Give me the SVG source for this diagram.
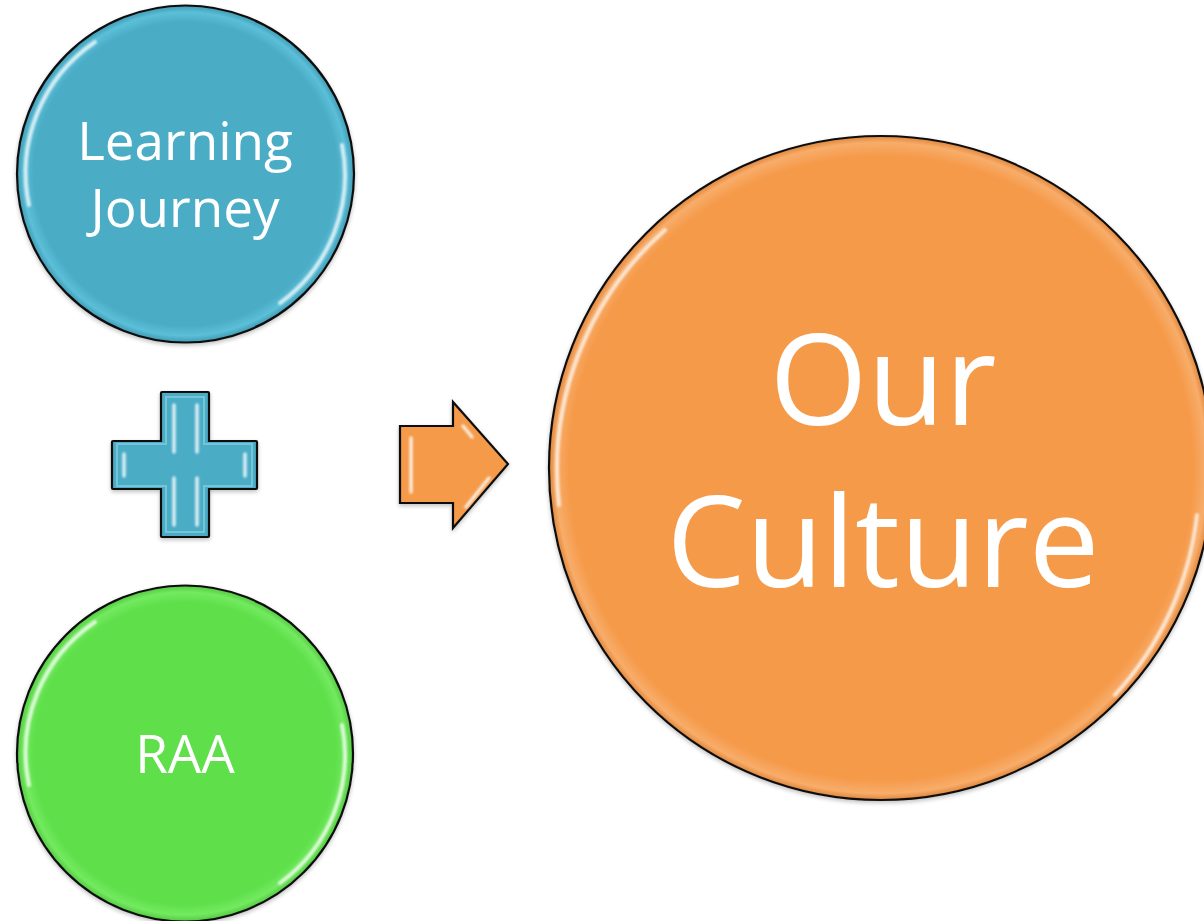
<svg xmlns="http://www.w3.org/2000/svg" width="1204" height="921" viewBox="0 0 1204 921">
<style>
.lbl{font-family:"Open Sans","Liberation Sans",sans-serif;fill:#ffffff;text-anchor:middle}
.edge{stroke:#111;stroke-width:2.2}
.hl{fill:none;stroke:#ffffff;stroke-linecap:round}
</style>
<defs>
<radialGradient id="gBlue" cx="50%" cy="50%" r="50%">
<stop offset="0.9" stop-color="#4BACC6"/><stop offset="0.96" stop-color="#5cbfd8"/><stop offset="1" stop-color="#3f9ab3"/>
</radialGradient>
<radialGradient id="gGreen" cx="50%" cy="50%" r="50%">
<stop offset="0.9" stop-color="#5FE04B"/><stop offset="0.96" stop-color="#73ea60"/><stop offset="1" stop-color="#52c940"/>
</radialGradient>
<radialGradient id="gOrange" cx="50%" cy="50%" r="50%">
<stop offset="0.94" stop-color="#F59A4A"/><stop offset="0.98" stop-color="#f8ad6a"/><stop offset="1" stop-color="#e0853a"/>
</radialGradient>
<filter id="sh" x="-10%" y="-10%" width="120%" height="120%">
<feGaussianBlur in="SourceAlpha" stdDeviation="2"/><feOffset dx="0" dy="2"/>
<feComponentTransfer><feFuncA type="linear" slope="0.25"/></feComponentTransfer>
<feMerge><feMergeNode/><feMergeNode in="SourceGraphic"/></feMerge>
</filter>
<filter id="soft" x="-20%" y="-20%" width="140%" height="140%">
<feGaussianBlur stdDeviation="1.2"/>
</filter>
</defs>

<g id="node-learning" filter="url(#sh)">
<circle cx="185.5" cy="174" r="168.5" fill="url(#gBlue)" class="edge"/>
<path class="hl" filter="url(#soft)" d="M 29 205 A 158 158 0 0 1 95 42" stroke-width="4" opacity="0.75"/>
<path class="hl" filter="url(#soft)" d="M 342 145 A 158 158 0 0 1 280 303" stroke-width="4" opacity="0.75"/>
<text class="lbl" x="185" y="160" font-size="53">Learning</text>
<text class="lbl" x="185" y="227" font-size="53">Journey</text>
</g>

<g id="node-raa" filter="url(#sh)">
<circle cx="185" cy="753.5" r="168" fill="url(#gGreen)" class="edge"/>
<path class="hl" filter="url(#soft)" d="M 29 785 A 158 158 0 0 1 95 622" stroke-width="4" opacity="0.75"/>
<path class="hl" filter="url(#soft)" d="M 342 725 A 158 158 0 0 1 280 883" stroke-width="4" opacity="0.75"/>
<text class="lbl" x="185" y="773" font-size="53">RAA</text>
</g>

<g id="node-plus" filter="url(#sh)">
<path d="M162 392 H208 Q209 392 209 393 V441 H256 Q257 441 257 442 V488 Q257 489 256 489 H209 V536 Q209 537 208 537 H162 Q161 537 161 536 V489 H113 Q112 489 112 488 V442 Q112 441 113 441 H161 V393 Q161 392 162 392 Z" fill="#4BACC6" class="edge"/>
<path d="M166 397 H204 V444 H252 V486 H204 V532 H166 V486 H117 V444 H166 Z" fill="none" stroke="#8fd6e6" stroke-width="2" opacity="0.6"/>
<path class="hl" filter="url(#soft)" d="M174 405 V452 M174 478 V525 M197 405 V452 M197 478 V525 M124 454 V476 M245 454 V476" stroke-width="3.5" opacity="0.8"/>
</g>

<g id="node-arrow" filter="url(#sh)">
<path d="M400 426 H453 V402 L508 464 L453 528 V503 H400 Z" fill="#F59A4A" class="edge" stroke-linejoin="miter"/>
<path class="hl" filter="url(#soft)" d="M411 438 V492 M463 426 L472 437 M466 507 L489 478" stroke-width="3.5" opacity="0.8"/>
</g>

<g id="node-culture" filter="url(#sh)">
<circle cx="881" cy="468" r="332" fill="url(#gOrange)" class="edge"/>
<path class="hl" filter="url(#soft)" d="M 559 505 A 320 320 0 0 1 665 230" stroke-width="4" opacity="0.7"/>
<path class="hl" filter="url(#soft)" d="M 1197 515 A 320 320 0 0 1 1115 695" stroke-width="4" opacity="0.7"/>
<text class="lbl" x="883" y="425" font-size="126">Our</text>
<text class="lbl" x="883" y="587" font-size="126">Culture</text>
</g>

<g id="connectors"></g>
</svg>
